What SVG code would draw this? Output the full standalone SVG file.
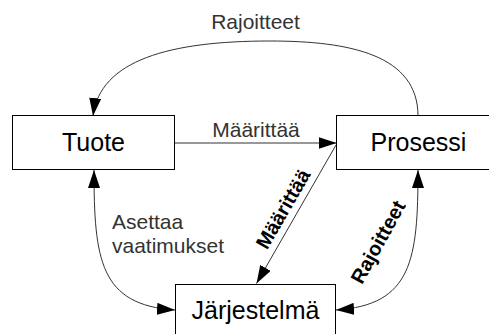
<svg xmlns="http://www.w3.org/2000/svg" width="489" height="334" viewBox="0 0 489 334">
  <style>
    .box { fill: #fff; stroke: #000; stroke-width: 1; }
    .name { font-family: "Liberation Sans", Arial, sans-serif; font-size: 25px; fill: #000; text-anchor: middle; }
    .lbl { font-family: "Liberation Sans", Arial, sans-serif; font-size: 21px; fill: #333; }
    .lblb { font-family: "Liberation Sans", Arial, sans-serif; font-size: 20px; font-weight: bold; fill: #000; text-anchor: middle; }
    .edge { fill: none; stroke: #333; stroke-width: 1; }
  </style>
  <defs>
    <marker id="arrow" markerUnits="userSpaceOnUse" markerWidth="18" markerHeight="12" refX="18" refY="6" orient="auto-start-reverse" viewBox="0 0 18 12">
      <path d="M0,0 L18,6 L0,12 Z" fill="#000"/>
    </marker>
  </defs>
  <rect width="489" height="334" fill="#fff"/>

  <g id="connectors">
    <!-- Prosessi -> Tuote: constraints -->
    <path class="edge" d="M418,116 C418,55 350,41 270,41 C170,41 100,60 93,116" marker-end="url(#arrow)"/>
    <text class="lbl" x="255.5" y="29" text-anchor="middle">Rajoitteet</text>
    <!-- Tuote -> Prosessi: defines -->
    <path class="edge" d="M175,143 L336.5,143" marker-end="url(#arrow)"/>
    <text class="lbl" x="256" y="137" text-anchor="middle">Määrittää</text>
    <!-- Prosessi -> Järjestelmä: defines -->
    <path class="edge" d="M336,145 L256.5,283.5" marker-end="url(#arrow)"/>
    <text class="lblb" transform="translate(283,209) rotate(-60)" y="7">Määrittää</text>
    <!-- Tuote <-> Järjestelmä: requirements -->
    <path class="edge" d="M94,170 C94,260 100,305 175,310" marker-start="url(#arrow)" marker-end="url(#arrow)"/>
    <text class="lbl" x="112" y="229">Asettaa</text>
    <text class="lbl" x="112" y="253">vaatimukset</text>
    <!-- Prosessi <-> Järjestelmä: constraints -->
    <path class="edge" d="M418,170 C418,260 412,305 336,310" marker-start="url(#arrow)" marker-end="url(#arrow)"/>
    <text class="lblb" transform="translate(378,242) rotate(-61)" y="7">Rajoitteet</text>
  </g>

  <g id="tuote">
    <rect class="box" x="12.5" y="115.5" width="162" height="54"/>
    <text class="name" x="93.5" y="151">Tuote</text>
  </g>
  <g id="prosessi">
    <rect class="box" x="336.5" y="115.5" width="163" height="54"/>
    <text class="name" x="418.5" y="151">Prosessi</text>
  </g>
  <g id="jarjestelma">
    <rect class="box" x="175.5" y="284.5" width="160" height="60"/>
    <text class="name" x="255.5" y="319">Järjestelmä</text>
  </g>
</svg>
